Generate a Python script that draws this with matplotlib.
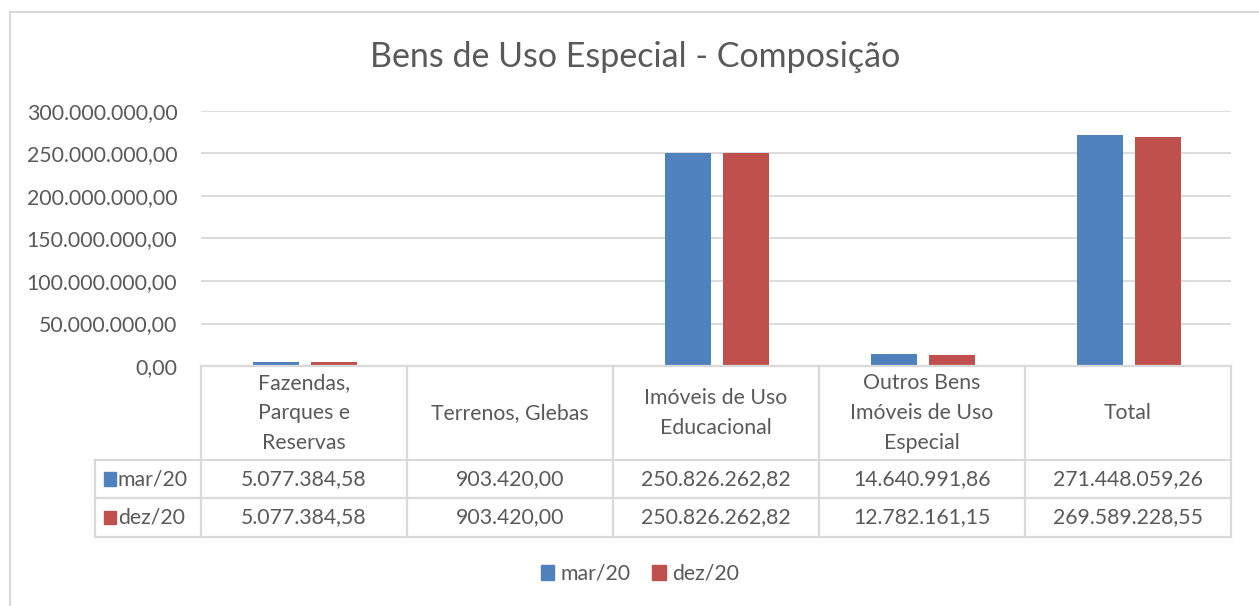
import numpy as np
import matplotlib
matplotlib.use("Agg")
import matplotlib.pyplot as plt
from matplotlib.patches import Patch
from matplotlib.lines import Line2D
import matplotlib.transforms as mtransforms

plt.rcParams['font.family'] = ['Lato', 'DejaVu Sans']

# data
categories = ['Fazendas,\nParques e\nReservas', 'Terrenos, Glebas',
              'Imóveis de Uso\nEducacional', 'Outros Bens\nImóveis de Uso\nEspecial', 'Total']
series_names = ['mar/20', 'dez/20']
mar20 = [5077384.58, 903420.00, 250826262.82, 14640991.86, 271448059.26]
dez20 = [5077384.58, 903420.00, 250826262.82, 12782161.15, 269589228.55]
yticks = [0, 50e6, 100e6, 150e6, 200e6, 250e6, 300e6]

colors = ['#4f81bd', '#c0504d']
txt = '#595959'
grid = '#d9d9d9'
fs = 15.3


def br(v):
    s = '{:,.2f}'.format(v)
    return s.replace(',', 'X').replace('.', ',').replace('X', '.')


W, H = 1259, 606
fig = plt.figure(figsize=(W / 100, H / 100), dpi=100)

# axes placed in pixel terms
left, right, top, bottom = 201, 1231, 111, 366
ax = fig.add_axes([left / W, 1 - bottom / H, (right - left) / W, (bottom - top) / H])

x = np.arange(len(categories))
ax.bar(x - 0.135, mar20, width=0.225, color=colors[0])
ax.bar(x + 0.145, dez20, width=0.225, color=colors[1])

ax.set_xlim(-0.5, len(categories) - 0.5)
ax.set_ylim(0, 300e6)
ax.set_yticks(yticks)
ax.set_yticklabels([br(v) for v in yticks], color=txt, fontsize=fs)
ax.tick_params(axis='y', length=0, pad=17)
ax.set_xticks([])
ax.yaxis.grid(True, color=grid, linewidth=1.3)
ax.set_axisbelow(True)
for s in ax.spines.values():
    s.set_visible(False)

# data table below the plot
trans = mtransforms.blended_transform_factory(ax.transData, ax.transAxes)
ph = bottom - top
y_head = -(460 - bottom) / ph
y_r1 = -(498 - bottom) / ph
y_r2 = -(537 - bottom) / ph
x_lab = -0.5 - (left - 95) / ((right - left) / len(categories))
lw = 1.6
n = len(categories)

kw = dict(transform=trans, color=grid, lw=lw, clip_on=False)
ax.add_line(Line2D([-0.5, n - 0.5], [0, 0], **kw))
for yy in [y_head, y_r1, y_r2]:
    ax.add_line(Line2D([x_lab, n - 0.5], [yy, yy], **kw))
for xx in np.arange(n + 1) - 0.5:
    ax.add_line(Line2D([xx, xx], [0, y_r2], **kw))
ax.add_line(Line2D([x_lab, x_lab], [y_head, y_r2], **kw))

for i, c in enumerate(categories):
    ax.text(i, y_head / 2, c, transform=trans, ha='center', va='center',
            fontsize=fs, color=txt, linespacing=1.6)
for row, (vals, yy0, yy1) in enumerate([(mar20, y_head, y_r1), (dez20, y_r1, y_r2)]):
    yc = (yy0 + yy1) / 2
    for i, v in enumerate(vals):
        ax.text(i, yc, br(v), transform=trans, ha='center', va='center',
                fontsize=fs, color=txt)
    ax.add_patch(plt.Rectangle((x_lab + 0.045, yc - 0.026), 0.055, 0.052,
                               transform=trans, color=colors[row], clip_on=False))
    ax.text(x_lab + 0.11, yc, series_names[row], transform=trans, ha='left',
            va='center', fontsize=fs, color=txt)

fig.text(635 / W, 1 - 57 / H, 'Bens de Uso Especial - Composição', ha='center',
         va='center', fontsize=24.5, color=txt)

handles = [Patch(color=colors[0], label=series_names[0]),
           Patch(color=colors[1], label=series_names[1])]
fig.legend(handles=handles, loc='center', bbox_to_anchor=(640 / W, 1 - 574 / H),
           ncol=2, frameon=False, fontsize=fs, handlelength=0.65, handleheight=0.65,
           handletextpad=0.3, columnspacing=1.0, labelcolor=txt)

# chart border (partly cut off in the original)
fig.add_artist(Line2D([10 / W, 10 / W], [0, 1 - 12 / H], color=grid, lw=1.5,
                      transform=fig.transFigure))
fig.add_artist(Line2D([10 / W, 1], [1 - 12 / H, 1 - 12 / H], color=grid, lw=1.5,
                      transform=fig.transFigure))

fig.savefig('out.png', dpi=100)
